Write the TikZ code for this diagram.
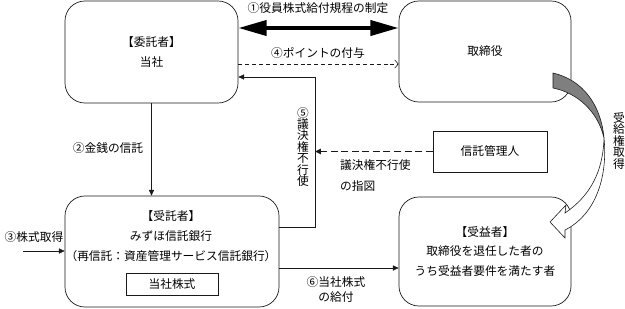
\documentclass[tikz,border=0pt]{standalone}
\usepackage{fontspec}
\setmainfont{Noto Sans CJK JP}
\usepackage{tikz}
\usetikzlibrary{positioning,arrows.meta,calc}
\definecolor{tsink}{HTML}{1A1A1A}
\definecolor{tsgrey}{HTML}{7F7F7F}
\newcommand{\tightstack}{\lineskiplimit=-10pt\lineskip=0pt\relax}
\tikzset{
  box/.style={draw=tsink,line width=0.6pt,rounded corners=17pt,inner sep=0pt,font=\fontsize{10}{17}\selectfont,align=center},
  subbox/.style={draw=tsink,line width=0.6pt,inner sep=0pt,font=\fontsize{10}{12}\selectfont},
  lbl/.style={font=\fontsize{10}{17}\selectfont,inner sep=0pt,align=center},
  vlbl/.style={font=\fontsize{10}{9.8}\selectfont\tightstack,inner sep=0pt,align=center},
  lnk/.style={-{Triangle[length=5pt,width=4.5pt]},line width=0.5pt,draw=tsink},
  thk/.style={{Triangle[length=8.5mm,width=4.5mm]}-{Triangle[length=8.5mm,width=4.5mm]},line width=3.4pt,draw=black},
  dlnk/.style={-{Straight Barb[length=3pt,width=7pt]},dash pattern=on 3.4pt off 2.5pt,line width=0.5pt,draw=tsink},
  hlnk/.style={-{Triangle[length=5pt,width=4.5pt]},dash pattern=on 6pt off 3pt,line width=1.1pt,draw=tsink},
  arc/.style={draw=tsink,line width=0.5pt},
}
\begin{document}
\begin{tikzpicture}[x=0.03cm,y=-0.03cm]
  \useasboundingbox (0,0) rectangle (625,308);
  \node[box,minimum width=5.19cm,minimum height=3.06cm] (itaku) at (151.5,52) {【委託者】\\当社};
  \node[box,minimum width=5.16cm,minimum height=3.03cm] (tori) at (485,51.5) {取締役};
  \node[box,minimum width=6.42cm,minimum height=3.33cm] (jutaku) at (172,251.5) {};
  \node[lbl] (jutakutxt) at (171,236) {【受託者】\\みずほ信託銀行\\（再信託：資産管理サービス信託銀行）};
  \node[subbox,minimum width=2.76cm,minimum height=0.66cm] (kabu) at (172,284) {当社株式};
  \node[box,minimum width=5.16cm,minimum height=3.27cm] (jueki) at (485,251.5) {【受益者】\\取締役を退任した者の\\うち受益者要件を満たす者};
  \node[subbox,minimum width=3.42cm,minimum height=1.23cm] (kanri) at (490,151.5) {信託管理人};

  \node[lbl] (l1) at (318,8) {①役員株式給付規程の制定};
  \node[lbl] (l4) at (318,53) {④ポイントの付与};
  \node[lbl] (l2) at (108,148) {②金銭の信託};
  \node[lbl] (l3) at (34,237) {③株式取得};
  \node[vlbl] (l5) at (303,147) {⑤\\議\\決\\権\\不\\行\\使};
  \node[lbl,align=left,anchor=west,font=\fontsize{10}{18}\selectfont] (lsashizu) at (340,175.5) {議決権不行使\\の指図};
  \node[lbl,font=\fontsize{10}{13}\selectfont] (l6) at (336,289.5) {⑥当社株式\\の給付};
  \node[vlbl] (ljuk) at (619,141) {受\\給\\権\\取\\得};

  \coordinate (p1) at (318,28);
  \coordinate (p4) at (318,64);
  \coordinate (v5top) at (315,77);
  \coordinate (v5bot) at (315,227);
  \coordinate (s3) at (23,251);
  \coordinate (p6) at (340,268);
  \draw[thk](itaku.east |- p1)--(tori.west |- p1);
  \draw[dlnk](itaku.east |- p4)--(tori.west |- p4);
  \draw[lnk](jutaku.east |- v5bot)--(v5bot)--(v5top)--(itaku.east |- v5top);
  \draw[hlnk](kanri.west)--(v5top |- kanri.west);
  \draw[lnk](itaku.south)--(itaku.south |- jutaku.north);
  \draw[lnk](s3)--(jutaku.west |- s3);
  \draw[lnk](jutaku.east |- p6)--(jueki.west |- p6);

  \draw[arc,fill=tsgrey] (553,73) .. controls (583,80) and (601,105) .. (604,138) .. controls (598,112) and (578,93) .. (553,88) -- cycle;
  \draw[arc,fill=white] (604,138) .. controls (608,178) and (595,215) .. (565,230) -- (565,238) -- (550,222) -- (566,205) -- (565,213) .. controls (590,196) and (603,172) .. (604,138) -- cycle;
\end{tikzpicture}
\end{document}
